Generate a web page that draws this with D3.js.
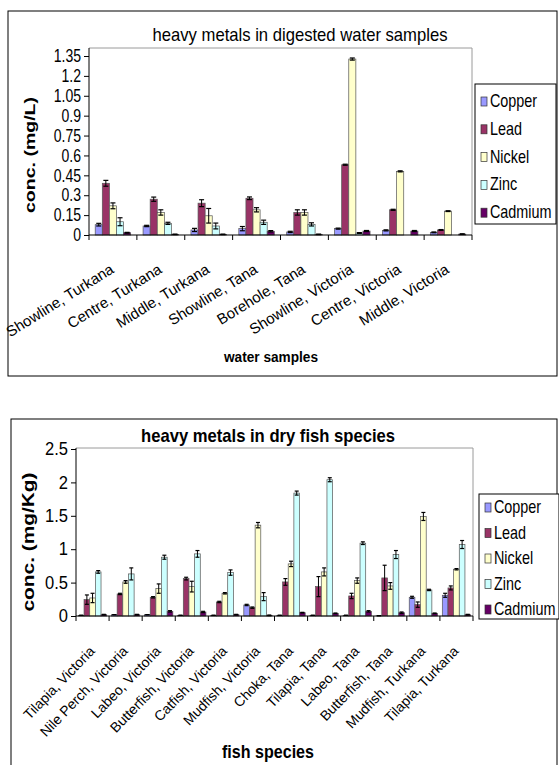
<!DOCTYPE html>
<html>
<head>
<meta charset="utf-8">
<script src="https://cdn.jsdelivr.net/npm/d3@7"></script>
<style>
  body { margin: 0; background: #fff; }
  svg text { font-family: "Liberation Sans", Arial, sans-serif; }
</style>
</head>
<body>
<script>
// metals, same order in both charts
var metals = ["Copper", "Lead", "Nickel", "Zinc", "Cadmium"];
var colors = ["#9999ff", "#993366", "#ffffcc", "#ccffff", "#660066"];

// chart 1: water samples (mg/L)
var waterSamples = ["Showline, Turkana", "Centre, Turkana", "Middle, Turkana", "Showline, Tana",
                    "Borehole, Tana", "Showline, Victoria", "Centre, Victoria", "Middle, Victoria"];
var waterCopper  = [0.078, 0.068, 0.038, 0.048, 0.023, 0.048, 0.035, 0.020];
var waterLead    = [0.390, 0.270, 0.240, 0.277, 0.170, 0.530, 0.190, 0.038];
var waterNickel  = [0.220, 0.170, 0.145, 0.190, 0.170, 1.327, 0.480, 0.180];
var waterZinc    = [0.100, 0.088, 0.068, 0.096, 0.080, 0.015, 0.000, 0.000];
var waterCadmium = [0.017, 0.005, 0.005, 0.028, 0.005, 0.030, 0.030, 0.007];
var waterErrCopper  = [0.010, 0.005, 0.012, 0.016, 0.005, 0.004, 0.004, 0.003];
var waterErrLead    = [0.022, 0.016, 0.026, 0.010, 0.020, 0.004, 0.004, 0.003];
var waterErrNickel  = [0.022, 0.020, 0.055, 0.016, 0.020, 0.008, 0.004, 0.003];
var waterErrZinc    = [0.030, 0.008, 0.022, 0.016, 0.012, 0.003, 0.000, 0.000];
var waterErrCadmium = [0.003, 0.002, 0.002, 0.005, 0.002, 0.004, 0.004, 0.002];
var waterTicks = [0, 0.15, 0.3, 0.45, 0.6, 0.75, 0.9, 1.05, 1.2, 1.35];

// chart 2: dry fish species (mg/Kg)
var fishSpecies = ["Tilapia, Victoria", "Nile Perch, Victoria", "Labeo, Victoria", "Butterfish, Victoria",
                   "Catfish, Victoria", "Mudfish, Victoria", "Choka, Tana", "Tilapia, Tana",
                   "Labeo, Tana", "Butterfish, Tana", "Mudfish, Turkana", "Tilapia, Turkana"];
var fishCopper  = [0.010, 0.020, 0.020, 0.010, 0.010, 0.165, 0.010, 0.010, 0.010, 0.005, 0.280, 0.310];
var fishLead    = [0.245, 0.330, 0.280, 0.560, 0.210, 0.125, 0.510, 0.440, 0.300, 0.570, 0.170, 0.420];
var fishNickel  = [0.270, 0.510, 0.410, 0.440, 0.340, 1.360, 0.780, 0.660, 0.530, 0.450, 1.490, 0.700];
var fishZinc    = [0.660, 0.630, 0.880, 0.930, 0.650, 0.290, 1.840, 2.040, 1.090, 0.920, 0.390, 1.070];
var fishCadmium = [0.020, 0.020, 0.070, 0.060, 0.020, 0.010, 0.050, 0.040, 0.070, 0.050, 0.040, 0.020];
var fishErrCopper  = [0.000, 0.000, 0.000, 0.000, 0.000, 0.010, 0.000, 0.000, 0.000, 0.000, 0.015, 0.030];
var fishErrLead    = [0.070, 0.010, 0.010, 0.020, 0.010, 0.010, 0.050, 0.150, 0.040, 0.190, 0.040, 0.030];
var fishErrNickel  = [0.070, 0.020, 0.070, 0.080, 0.010, 0.040, 0.040, 0.060, 0.040, 0.050, 0.060, 0.010];
var fishErrZinc    = [0.020, 0.090, 0.030, 0.050, 0.040, 0.060, 0.030, 0.030, 0.020, 0.060, 0.010, 0.060];
var fishErrCadmium = [0.005, 0.005, 0.010, 0.010, 0.005, 0.005, 0.005, 0.005, 0.010, 0.010, 0.005, 0.005];
var fishTicks = [0, 0.5, 1, 1.5, 2, 2.5];

var svg = d3.select("body").append("svg")
  .attr("width", 559)
  .attr("height", 765);

// squeeze text horizontally (the original uses a narrow font)
function squeeze(sel, k) {
  sel.each(function() {
    var t = d3.select(this);
    var x = +t.attr("x") || 0;
    t.attr("x", x / k).attr("transform", "scale(" + k + ",1)");
  });
}

function drawChart(opt) {
  var g = svg.append("g");

  // outer frame
  g.append("rect")
    .attr("x", opt.frame[0]).attr("y", opt.frame[1])
    .attr("width", opt.frame[2]).attr("height", opt.frame[3])
    .attr("fill", "none").attr("stroke", "#000").attr("stroke-width", 1);

  var x0 = d3.scaleBand()
    .domain(opt.categories)
    .range([opt.left, opt.right])
    .paddingInner(0).paddingOuter(0);

  var x1 = d3.scaleBand()
    .domain(metals)
    .range([opt.barPad, x0.bandwidth() - opt.barPad]);

  var y = d3.scaleLinear()
    .domain([0, opt.ymax])
    .range([opt.bottom, opt.ytop]);

  // plot border (grey on top / right)
  g.append("path")
    .attr("d", "M" + opt.left + "," + opt.top + "H" + opt.right + "V" + opt.bottom)
    .attr("fill", "none").attr("stroke", "#9a9a9a");

  var rows = opt.categories.map(function(c, i) {
    return { cat: c, vals: opt.values.map(function(s, k) {
      return { metal: metals[k], v: s[i], e: opt.errors[k][i], color: colors[k] };
    }) };
  });

  var grp = g.selectAll(".grp").data(rows).enter().append("g")
    .attr("transform", function(d) { return "translate(" + x0(d.cat) + ",0)"; });

  grp.selectAll("rect").data(function(d) { return d.vals; }).enter().append("rect")
    .attr("x", function(d) { return x1(d.metal); })
    .attr("y", function(d) { return y(d.v); })
    .attr("width", x1.bandwidth())
    .attr("height", function(d) { return y(0) - y(d.v); })
    .attr("fill", function(d) { return d.color; })
    .attr("stroke", "#555")
    .attr("stroke-width", 0.7);

  // error bars
  var eb = grp.selectAll(".err").data(function(d) { return d.vals.filter(function(v) { return v.v > 0; }); })
    .enter().append("g").attr("class", "err");
  var cx = function(d) { return x1(d.metal) + x1.bandwidth() / 2; };
  eb.append("line")
    .attr("x1", cx).attr("x2", cx)
    .attr("y1", function(d) { return y(d.v + d.e); })
    .attr("y2", function(d) { return y(Math.max(0, d.v - d.e)); })
    .attr("stroke", "#000").attr("stroke-width", 1);
  [1, -1].forEach(function(sgn) {
    eb.append("line")
      .attr("x1", function(d) { return cx(d) - opt.cap; })
      .attr("x2", function(d) { return cx(d) + opt.cap; })
      .attr("y1", function(d) { return y(Math.max(0, d.v + sgn * d.e)); })
      .attr("y2", function(d) { return y(Math.max(0, d.v + sgn * d.e)); })
      .attr("stroke", "#000").attr("stroke-width", 1.2);
  });

  // y axis
  var yAxis = g.append("g")
    .attr("transform", "translate(" + opt.left + ",0)")
    .call(d3.axisLeft(y).tickValues(opt.ticks).tickSize(5).tickSizeOuter(0)
      .tickFormat(function(d) { return String(d); }));
  yAxis.select(".domain").attr("d", "M0," + opt.top + "V" + opt.bottom).attr("stroke", "#000");
  yAxis.selectAll("line").attr("stroke", "#000");
  var yt = yAxis.selectAll("text").attr("font-size", opt.yTickSize).attr("fill", "#000")
    .attr("font-family", "Liberation Sans, Arial, sans-serif");
  squeeze(yt, opt.yTickSqueeze);

  // x axis: ticks between groups
  var xAxis = g.append("g").attr("transform", "translate(0," + opt.bottom + ")");
  xAxis.append("line")
    .attr("x1", opt.left).attr("x2", opt.right)
    .attr("stroke", "#000").attr("stroke-width", 1.2);
  var bounds = opt.categories.map(function(c) { return x0(c); }).concat([opt.right]);
  xAxis.selectAll(".tk").data(bounds).enter().append("line")
    .attr("x1", function(d) { return d; }).attr("x2", function(d) { return d; })
    .attr("y1", 0).attr("y2", 5).attr("stroke", "#000");
  xAxis.selectAll(".lbl").data(opt.categories).enter().append("text")
    .attr("transform", function(d) {
      return "translate(" + (x0(d) + x0.bandwidth() / 2 + opt.lblDx) + "," + opt.lblDy + ") rotate(" + opt.lblRot + ")";
    })
    .attr("text-anchor", "end")
    .attr("font-size", opt.xTickSize)
    .text(function(d) { return d; });

  // titles
  g.append("text")
    .attr("x", opt.titleX).attr("y", opt.titleY)
    .attr("text-anchor", "middle")
    .attr("font-size", opt.titleSize)
    .attr("font-weight", opt.titleWeight)
    .attr("textLength", opt.titleLen).attr("lengthAdjust", "spacingAndGlyphs")
    .text(opt.title);
  g.append("text")
    .attr("transform", "translate(" + opt.yLabelX + "," + opt.yLabelY + ") rotate(-90)")
    .attr("text-anchor", "middle")
    .attr("font-size", opt.yLabelSize)
    .attr("font-weight", "bold")
    .attr("textLength", opt.yLabelLen).attr("lengthAdjust", "spacingAndGlyphs")
    .text(opt.yLabel);
  g.append("text")
    .attr("x", opt.xLabelX).attr("y", opt.xLabelY)
    .attr("text-anchor", "middle")
    .attr("font-size", opt.xLabelSize)
    .attr("font-weight", "bold")
    .attr("textLength", opt.xLabelLen).attr("lengthAdjust", "spacingAndGlyphs")
    .text(opt.xLabel);

  // legend
  var lg = g.append("g");
  lg.append("rect")
    .attr("x", opt.legend[0]).attr("y", opt.legend[1])
    .attr("width", opt.legend[2]).attr("height", opt.legend[3])
    .attr("fill", "#fff").attr("stroke", "#000");
  var items = lg.selectAll(".it").data(metals).enter().append("g")
    .attr("transform", function(d, i) {
      return "translate(" + (opt.legend[0] + 6) + "," + (opt.legend[1] + opt.legendFirst + i * opt.legendStep) + ")";
    });
  items.append("rect")
    .attr("x", 0).attr("y", -10).attr("width", 6).attr("height", 9)
    .attr("fill", function(d, i) { return colors[i]; })
    .attr("stroke", "#333").attr("stroke-width", 0.7);
  var lt = items.append("text")
    .attr("x", 9).attr("y", 0)
    .attr("font-size", opt.legendSize)
    .text(function(d) { return d; });
  squeeze(lt, 0.8);
}

drawChart({
  frame: [8, 11, 549, 365],
  categories: waterSamples,
  values: [waterCopper, waterLead, waterNickel, waterZinc, waterCadmium],
  errors: [waterErrCopper, waterErrLead, waterErrNickel, waterErrZinc, waterErrCadmium],
  ticks: waterTicks,
  ymax: 1.35, ytop: 56, top: 48, bottom: 235, left: 89, right: 472,
  barPad: 6.2, cap: 2.5,
  yTickSize: 18, yTickSqueeze: 0.78, xTickSize: 15, lblRot: -32, lblDx: 2, lblDy: 37,
  title: "heavy metals in digested water samples", titleX: 300, titleY: 41, titleSize: 19, titleLen: 295, titleWeight: "normal",
  yLabel: "conc. (mg/L)", yLabelX: 35, yLabelY: 155, yLabelSize: 15, yLabelLen: 116,
  xLabel: "water samples", xLabelX: 271, xLabelY: 362, xLabelSize: 14, xLabelLen: 94,
  legend: [475, 84, 81, 140], legendFirst: 23, legendStep: 27.8, legendSize: 18
});

drawChart({
  frame: [11, 419, 546, 360],
  categories: fishSpecies,
  values: [fishCopper, fishLead, fishNickel, fishZinc, fishCadmium],
  errors: [fishErrCopper, fishErrLead, fishErrNickel, fishErrZinc, fishErrCadmium],
  ticks: fishTicks,
  ymax: 2.5, ytop: 449, top: 448, bottom: 616, left: 76, right: 473,
  barPad: 2.4, cap: 2,
  yTickSize: 18, yTickSqueeze: 0.92, xTickSize: 14, lblRot: -46, lblDx: 3, lblDy: 36,
  title: "heavy metals in dry fish species", titleX: 268, titleY: 442, titleSize: 19, titleLen: 254, titleWeight: "bold",
  yLabel: "conc. (mg/Kg)", yLabelX: 34, yLabelY: 542, yLabelSize: 16, yLabelLen: 139,
  xLabel: "fish species", xLabelX: 268, xLabelY: 758, xLabelSize: 18, xLabelLen: 92,
  legend: [479, 494, 80, 125], legendFirst: 19, legendStep: 25.5, legendSize: 18
});
</script>
</body>
</html>
